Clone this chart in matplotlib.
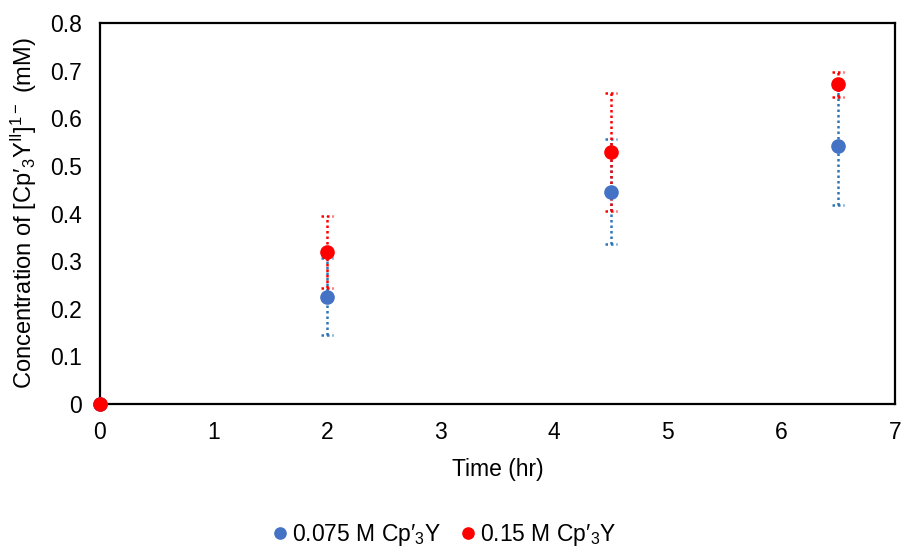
import numpy as np
import matplotlib.pyplot as plt

plt.rcParams['font.family'] = ['Liberation Sans', 'DejaVu Sans']
plt.rcParams['mathtext.default'] = 'regular'

time = [0, 2, 4.5, 6.5]

conc_low = [0, 0.225, 0.446, 0.542]
err_low = [0, 0.081, 0.110, 0.124]

conc_high = [0, 0.319, 0.530, 0.671]
err_high = [0, 0.076, 0.124, 0.027]

labels = ["0.075 M Cp′$_3$Y", "0.15 M Cp′$_3$Y"]
marker_colors = ['#4472C4', '#FF0000']
bar_colors = ['#2E75B6', '#FF0000']

fig = plt.figure(figsize=(9.03, 5.51), dpi=100)
ax = fig.add_axes([0.1107, 0.2668, 0.8804, 0.6914])

cap = 0.053
dots = (0, (1, 1.2))
series = [(conc_low, err_low), (conc_high, err_high)]
for (y, e), lab, mc, bc in zip(series, labels, marker_colors, bar_colors):
    x = np.array(time)
    y = np.array(y)
    e = np.array(e)
    m = e > 0
    ax.vlines(x[m], (y - e)[m], (y + e)[m], colors=bc, linestyles=dots,
              linewidth=1.8, zorder=2)
    ax.hlines((y - e)[m], x[m] - cap, x[m] + cap, colors=bc,
              linestyles=dots, linewidth=1.8, zorder=2)
    ax.hlines((y + e)[m], x[m] - cap, x[m] + cap, colors=bc,
              linestyles=dots, linewidth=1.8, zorder=2)
    ax.plot(x, y, 'o', color=mc, markersize=9.5, label=lab, zorder=3,
            clip_on=False)

ax.set_xlim(0, 7)
ax.set_ylim(0, 0.8)
ax.set_xticks(range(0, 8))
ax.set_yticks(np.arange(0, 0.81, 0.1))
ax.set_yticklabels(['0', '0.1', '0.2', '0.3', '0.4', '0.5', '0.6', '0.7', '0.8'])
ax.tick_params(length=0, labelsize=16.5, colors='#000000')
ax.tick_params(axis='y', pad=13)
ax.tick_params(axis='x', pad=12)
for s in ax.spines.values():
    s.set_linewidth(1.6)
    s.set_color('black')

ax.set_xlabel('Time (hr)', fontsize=16.5, labelpad=10)
ax.set_ylabel('Concentration of [Cp′$_3$Y$^{II}$]$^{1-}$ (mM)', fontsize=17,
              labelpad=8)

fig.legend(loc='lower center', bbox_to_anchor=(0.49, -0.032), ncol=2,
           frameon=False, fontsize=16.5, handletextpad=0.0, columnspacing=0.7,
           handlelength=1.0, markerscale=0.85)

fig.savefig('out.png', dpi=100)
